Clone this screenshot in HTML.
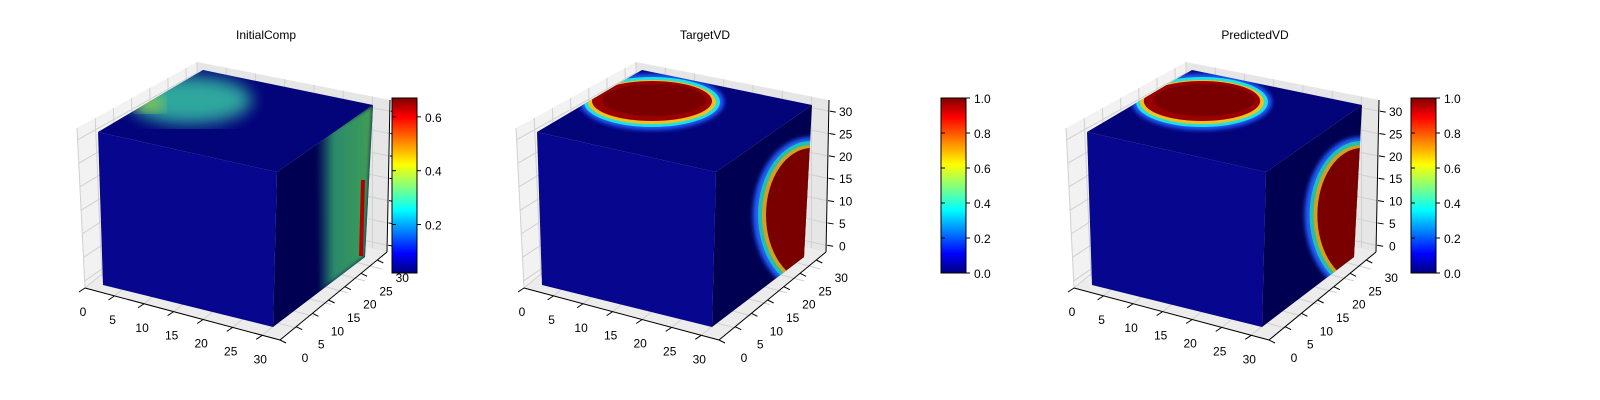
<!DOCTYPE html>
<html><head><meta charset="utf-8"><style>
body{margin:0;background:#fff}
svg{display:block;font-family:"Liberation Sans",sans-serif}
</style></head><body>
<svg id="fig" width="1600" height="400" viewBox="0 0 1600 400">
<defs>
<linearGradient id="jet" x1="0" y1="1" x2="0" y2="0">
<stop offset="0" stop-color="#00007f"/><stop offset="0.11" stop-color="#0000ff"/><stop offset="0.36" stop-color="#00ffff"/><stop offset="0.62" stop-color="#ffff00"/><stop offset="0.89" stop-color="#ff0000"/><stop offset="1" stop-color="#7f0000"/>
</linearGradient>
<filter id="blur2"><feGaussianBlur stdDeviation="2"/></filter>
<filter id="blur6"><feGaussianBlur stdDeviation="8"/></filter>
<linearGradient id="g1right" x1="0" y1="0" x2="1" y2="0"><stop offset="0" stop-color="#1e6a70" stop-opacity="0"/><stop offset="0.3" stop-color="#2a8a6a"/><stop offset="0.85" stop-color="#3a9a5a"/><stop offset="1" stop-color="#4aa050"/></linearGradient>
</defs>
</svg>
<script>
const titles = ["InitialComp", "TargetVD", "PredictedVD"];
const xTicks = [0, 5, 10, 15, 20, 25, 30];
const yTicks = [0, 5, 10, 15, 20, 25, 30];
const zTicks = [0, 5, 10, 15, 20, 25, 30];
const cb1Ticks = [0.2, 0.4, 0.6];
const cb1Range = [0.02, 0.67];
const cbTicks = [0.0, 0.2, 0.4, 0.6, 0.8, 1.0];
const cbRange = [0, 1];
const NS = "http://www.w3.org/2000/svg";
const svg = document.getElementById("fig");
function el(tag, attrs, parent, txt){const e=document.createElementNS(NS,tag);for(const k in attrs)e.setAttribute(k,attrs[k]);if(txt!==undefined)e.textContent=txt;(parent||svg).appendChild(e);return e;}
function pts(a){return a.map(p=>p.join(",")).join(" ");}
const X0=[85,288], X1=[280,340];
const Yd=[107,-88];
const xs = v=>[X0[0]+(X1[0]-X0[0])*v/33, X0[1]+(X1[1]-X0[1])*v/33];
const ys = v=>[X1[0]+Yd[0]*v/33, X1[1]+Yd[1]*v/33];
const zf = v=>(v+1.5)/34;
const zs = v=>252-152*zf(v);

function panel(i, ox, cbx, type){
  const g=el("g",{transform:`translate(${ox},0)`});
  
  
  const t=el("text",{x:266,y:39,"font-size":12,"text-anchor":"middle",fill:"#000"},g,titles[i]);
  
  
  const pl=el("polygon",{points:pts([[77,128],[197,62],[197,210],[85,288]]),fill:"#f2f2f2"},g);
  
  const pb=el("polygon",{points:pts([[197,62],[390,100],[387,252],[197,210]]),fill:"#e6e6e6"},g);
  
  const pf=el("polygon",{points:pts([[85,288],[197,210],[387,252],[280,340]]),fill:"#ececec"},g);
  
  xTicks.forEach(v=>{const p=xs(v);el("line",{x1:p[0],y1:p[1],x2:p[0]+Yd[0]*0.9,y2:p[1]+Yd[1]*0.9,stroke:"#d0d0d0"},g);
    const bx=197+(390-197)*v/33, by=62+(100-62)*v/33;el("line",{x1:bx,y1:by,x2:bx,y2:210+(252-210)*v/33,stroke:"#d0d0d0"},g);});
  yTicks.forEach(v=>{const f=v/33;const lx=85+(197-85)*f, ly=288+(210-288)*f;
    el("line",{x1:lx,y1:ly,x2:lx-8*(1)+8*f*0,y2:ly-160+ (1-f)*0,stroke:"none"},g);
    el("line",{x1:lx-8+ (8*f), y1:ly-160+ (160-148)*f, x2:lx, y2:ly, stroke:"#d0d0d0"},g);
    el("line",{x1:lx,y1:ly,x2:lx+195,y2:ly+52,stroke:"#d0d0d0"},g);});
  zTicks.forEach(v=>{const f=zf(v);
    el("line",{x1:85-8*f,y1:288-160*f,x2:197,y2:210-148*f,stroke:"#d0d0d0"},g);
    el("line",{x1:197,y1:210-148*f,x2:387+3*f,y2:252-152*f,stroke:"#d0d0d0"},g);
    el("line",{x1:388+3*f,y1:zs(v),x2:394+3*f,y2:zs(v)+1,stroke:"#000"},g);});
  el("line",{x1:X0[0],y1:X0[1],x2:X1[0],y2:X1[1],stroke:"#000"},g);
  el("line",{x1:X1[0],y1:X1[1],x2:X1[0]+Yd[0],y2:X1[1]+Yd[1],stroke:"#000"},g);
  el("line",{x1:390,y1:100,x2:387,y2:252,stroke:"#000"},g);
  xTicks.forEach(v=>{const p=xs(v);el("line",{x1:p[0],y1:p[1],x2:p[0]-6,y2:p[1]+4,stroke:"#000"},g);
    const l=el("text",{x:p[0]-2,y:p[1]+28,"font-size":12,"text-anchor":"middle"},g,v);
    });
  yTicks.forEach(v=>{const p=ys(v);el("line",{x1:p[0],y1:p[1],x2:p[0]+6,y2:p[1]+3,stroke:"#000"},g);
    const l=el("text",{x:p[0]+25,y:p[1]+22,"font-size":12,"text-anchor":"middle"},g,v);
    });
  if(type!==0) zTicks.forEach(v=>{const l=el("text",{x:400,y:zs(v)+5,"font-size":12},g,v);
    });
  const cube=el("g",{},g);
  
  el("polygon",{points:pts([[98,132],[277,172],[273,327],[103,285]]),fill:"#06068e"},cube);
  el("polygon",{points:pts([[277,172],[373,105],[365,257],[273,327]]),fill:"#000052"},cube);
  el("polygon",{points:pts([[98,132],[203,70],[373,105],[277,172]]),fill:"#03037a"},cube);
  const clipT="ct"+i, clipR="cr"+i;
  const d=el("defs",{},g);
  const c1=el("clipPath",{id:clipT},d);el("polygon",{points:pts([[98,132],[203,70],[373,105],[277,172]])},c1);
  const c2=el("clipPath",{id:clipR},d);el("polygon",{points:pts([[277,172],[373,105],[365,257],[273,327]])},c2);
  const top=el("g",{"clip-path":`url(#${clipT})`},cube), rt=el("g",{"clip-path":`url(#${clipR})`},cube);
  if(type===0){
    el("ellipse",{cx:190,cy:100,rx:62,ry:24,fill:"#30b0a0",filter:"url(#blur6)",opacity:0.95},top);
    el("ellipse",{cx:150,cy:104,rx:14,ry:8,fill:"#a0d040",filter:"url(#blur6)"},top);
    el("polygon",{points:pts([[316,140],[373,105],[365,257],[320,292]]),fill:"url(#g1right)",filter:"url(#blur2)"},rt);
    el("line",{x1:363,y1:180,x2:361,y2:256,stroke:"#b00000","stroke-width":4},rt);
  } else {
    const s=type===2?0.97:1;
    el("ellipse",{cx:213,cy:102,rx:72*s,ry:28,fill:"#2060ff",filter:"url(#blur2)"},top);
    el("ellipse",{cx:213,cy:102,rx:68*s,ry:25,fill:"#20e0e0"},top);
    el("ellipse",{cx:213,cy:102,rx:64*s,ry:22,fill:"#f0c020"},top);
    el("ellipse",{cx:213,cy:101,rx:60*s,ry:20,fill:"#9a0000"},top);
    el("ellipse",{cx:215,cy:100,rx:52*s,ry:16,fill:"#7a0000"},top);
    el("ellipse",{cx:372,cy:215,rx:58*s,ry:78,fill:"#2060ff",filter:"url(#blur2)"},rt);
    el("ellipse",{cx:372,cy:215,rx:53*s,ry:74,fill:"#20c0b0"},rt);
    el("ellipse",{cx:372,cy:215,rx:49*s,ry:70,fill:"#d0a020"},rt);
    el("ellipse",{cx:373,cy:215,rx:46*s,ry:67,fill:"#7a0000"},rt);
  }
  const cb=el("g",{},svg);
  
  el("rect",{x:cbx,y:98,width:25,height:175,fill:"url(#jet)",stroke:"#000","stroke-width":1},cb);
  const ticks=type===0?cb1Ticks:cbTicks, rng=type===0?cb1Range:cbRange;
  ticks.forEach(v=>{const y=273-175*(v-rng[0])/(rng[1]-rng[0]);
    el("line",{x1:cbx+25,y1:y,x2:cbx+29,y2:y,stroke:"#000"},cb);
    el("line",{x1:cbx,y1:y,x2:cbx+4,y2:y,stroke:"#000"},cb);
    const l=el("text",{x:cbx+33,y:y+5,"font-size":12},cb,v.toFixed(1));
    });
}
panel(0,0,392,0);
panel(1,439,941,1);
panel(2,989,1411,2);
</script>
</body></html>
